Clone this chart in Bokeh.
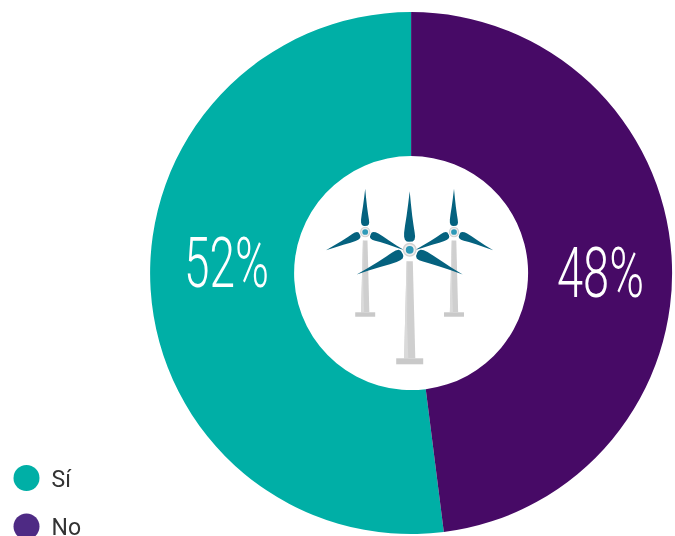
import math
from bokeh.plotting import figure
from bokeh.document import Document
from bokeh.models import ColumnDataSource, CustomJS
from bokeh.core.properties import value
from bokeh.embed import file_html
from bokeh.resources import INLINE

# data
categories = ["Sí", "No"]
shares = [52, 48]
colors = ["#00AFA6", "#470A66"]
legend_colors = ["#00AFA6", "#4E2A84"]

# layout (page pixels)
W, H = 675, 536
CX, CY, R_OUT, R_IN = 410.6, 272.6, 261, 117
label_x = [183.5, 556.5]
label_y = [261.5, 272]
label_w = [85, 87]
legend_x = 26
legend_y = [477.5, 526]

p = figure(width=W, height=H, x_range=(0, W), y_range=(H, 0),
           output_backend="svg", toolbar_location=None, min_border=0)
p.styles = {"position": "fixed", "left": "0px", "top": "0px"}
p.axis.visible = False
p.grid.visible = False
p.outline_line_color = None
p.background_fill_color = "white"
p.border_fill_color = "white"

# donut: "No" runs clockwise from 12 o'clock, "Sí" fills the rest
total = sum(shares)
no_sweep = 2 * math.pi * shares[1] / total
top = math.pi / 2
src = ColumnDataSource(dict(
    x=[CX, CX], y=[CY, CY],
    start=[top, top - no_sweep],
    end=[top - no_sweep + 2 * math.pi, top],
    color=colors))
p.annular_wedge(x="x", y="y", inner_radius=R_IN, outer_radius=R_OUT,
                start_angle="start", end_angle="end", color="color",
                line_color=None, source=src, direction="anticlock")

# wind turbine icon
BLADE = [(8, 0.8), (8.4, 3.0), (10.0, 4.8), (13.0, 5.6), (17, 5.6), (24, 4.7),
         (34, 3.1), (46, 1.5), (58.5, 0), (46, -1.2), (34, -2.5), (24, -3.9),
         (17, -5.0), (13.0, -5.4), (10.0, -4.8), (8.4, -3.0)]


def turbine(hx, hy, s):
    # tower and base
    tt, tb = hy + 11.5 * s, hy + 108.5 * s
    p.patch([hx - 3.1 * s, hx + 3.1 * s, hx + 5.6 * s, hx - 5.6 * s], [tt, tt, tb, tb],
            color="#CFCFCF", line_color=None)
    p.patch([hx - 3.1 * s, hx - 2.4 * s, hx - 2.6 * s, hx - 1.4 * s, hx - 5.6 * s],
            [tt, tt, tb - 35 * s, tb, tb], color="#DADADA", line_color=None)
    p.quad(left=[hx - 13.5 * s], right=[hx + 13.5 * s], top=[tb], bottom=[tb + 6 * s],
           color="#C9C9C9", line_color=None)
    # blades
    for deg in (90, 205, -25):
        a = math.radians(deg)
        xs, ys = [], []
        for u, v in BLADE:
            xs.append(hx + s * (u * math.cos(a) - v * math.sin(a)))
            ys.append(hy - s * (u * math.sin(a) + v * math.cos(a)))
        p.patch(xs, ys, color="#05627F", line_color=None)
    # hub
    p.circle([hx], [hy], radius=7 * s, color="#D2D2D2", line_color=None)
    p.circle([hx], [hy], radius=5.6 * s, color="#EDEDED", line_color=None)
    p.circle([hx], [hy], radius=3.9 * s, color="#2E9AB8", line_color=None)


turbine(364.7, 231.5, 0.74)
turbine(453.5, 231.5, 0.74)
turbine(409.2, 249.3, 1.0)

# percentage labels
p.text(x=label_x, y=label_y, text=[f"{v}%" for v in shares], text_color="white",
       text_font=value("Roboto Light"), text_font_size="71px",
       text_align="left", text_baseline="alphabetic")

# legend
p.scatter(x=[legend_x] * 2, y=legend_y, size=26, color=legend_colors, line_color=None)
p.text(x=[51, 51], y=[478.5, 526.5], text=categories, text_color="#333333",
       text_font=value("Roboto"), text_font_size="23px",
       text_align="left", text_baseline="alphabetic")

# the reference's numerals are an extra-condensed cut: fit them to their measured widths
fit = CustomJS(args=dict(texts=[f"{v}%" for v in shares], widths=label_w), code="""
function walk(n, out) {
  if (n.shadowRoot) walk(n.shadowRoot, out);
  for (const c of n.children || []) {
    if (c.tagName && c.tagName.toLowerCase() === 'text') out.push(c);
    walk(c, out);
  }
  return out;
}
function run() {
  for (const t of walk(document.body, [])) {
    const i = texts.indexOf(t.textContent.trim());
    if (i >= 0) {
      t.setAttribute('textLength', widths[i]);
      t.setAttribute('lengthAdjust', 'spacingAndGlyphs');
    }
  }
}
run(); setTimeout(run, 100); setTimeout(run, 400);
""")
doc = Document()
doc.add_root(p)
doc.js_on_event("document_ready", fit)

open("out.html", "w").write(file_html(doc, INLINE))
